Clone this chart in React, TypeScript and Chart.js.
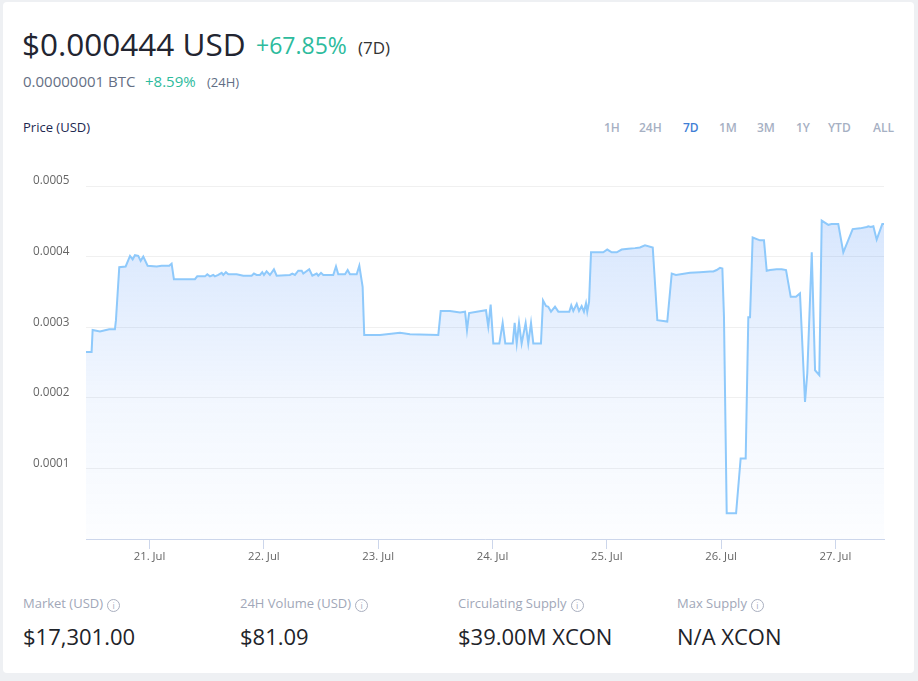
import React, { useEffect, useRef } from "react";
import { Chart, registerables } from "chart.js";

Chart.register(...registerables);

// time in days of July (fractional), price in USD
const times: number[] = [
  20.444, 20.493, 20.502, 20.566, 20.647, 20.697, 20.706, 20.735, 20.791, 20.829,
  20.852, 20.872, 20.901, 20.922, 20.945, 20.983, 21.062, 21.106, 21.172, 21.193,
  21.213, 21.397, 21.417, 21.485, 21.505, 21.528, 21.557, 21.572, 21.601, 21.631,
  21.645, 21.668, 21.689, 21.762, 21.82, 21.893, 21.913, 21.937, 21.966, 21.986,
  22.001, 22.024, 22.053, 22.088, 22.112, 22.228, 22.249, 22.272, 22.301, 22.331,
  22.345, 22.397, 22.424, 22.462, 22.476, 22.5, 22.52, 22.607, 22.631, 22.651,
  22.71, 22.733, 22.753, 22.812, 22.835, 22.864, 22.878, 23.016, 23.191, 23.278,
  23.526, 23.547, 23.628, 23.716, 23.76, 23.777, 23.795, 23.862, 23.943, 23.963,
  23.984, 24.007, 24.06, 24.089, 24.112, 24.177, 24.194, 24.212, 24.232, 24.255,
  24.29, 24.313, 24.337, 24.357, 24.424, 24.442, 24.468, 24.488, 24.512, 24.547,
  24.576, 24.672, 24.689, 24.707, 24.737, 24.757, 24.78, 24.8, 24.818, 24.829,
  24.845, 24.862, 24.969, 25.004, 25.043, 25.087, 25.13, 25.188, 25.247, 25.29,
  25.334, 25.402, 25.442, 25.529, 25.568, 25.605, 25.728, 25.815, 25.903, 25.932,
  25.961, 25.99, 26.011, 26.025, 26.049, 26.131, 26.171, 26.215, 26.238, 26.253,
  26.276, 26.34, 26.375, 26.399, 26.428, 26.486, 26.53, 26.568, 26.609, 26.655,
  26.69, 26.734, 26.754, 26.793, 26.822, 26.859, 26.88, 26.938, 26.967, 27.025,
  27.069, 27.151, 27.215, 27.274, 27.288, 27.309, 27.332, 27.361, 27.41, 27.425,
];

const prices: number[] = [
  0.000265, 0.000265, 0.000296, 0.000294, 0.000297, 0.000297, 0.00031, 0.000385, 0.000386, 0.000401,
  0.000396, 0.000402, 0.000401, 0.000394, 0.0004, 0.000387, 0.000386, 0.000387, 0.000387, 0.00039,
  0.000368, 0.000368, 0.000372, 0.000372, 0.000375, 0.000372, 0.000374, 0.000372, 0.000374, 0.000377,
  0.000374, 0.000378, 0.000375, 0.000375, 0.000373, 0.000373, 0.000376, 0.000374, 0.000374, 0.000378,
  0.000374, 0.000379, 0.000374, 0.000382, 0.000373, 0.000374, 0.000376, 0.000374, 0.00038, 0.00038,
  0.000376, 0.000382, 0.000373, 0.000376, 0.000373, 0.000377, 0.000374, 0.000374, 0.000386, 0.000375,
  0.000375, 0.000381, 0.000375, 0.000375, 0.000387, 0.000357, 0.000289, 0.000289, 0.000292, 0.00029,
  0.000289, 0.000323, 0.000323, 0.000321, 0.000322, 0.000296, 0.00032, 0.000322, 0.000324, 0.000301,
  0.000332, 0.000277, 0.000277, 0.000306, 0.000277, 0.000277, 0.000306, 0.000277, 0.000306, 0.000277,
  0.000306, 0.000277, 0.000306, 0.000277, 0.000277, 0.000338, 0.00033, 0.000329, 0.000322, 0.000329,
  0.000322, 0.000322, 0.000331, 0.000323, 0.000333, 0.000323, 0.00033, 0.000322, 0.000334, 0.000322,
  0.000336, 0.000406, 0.000406, 0.00041, 0.000406, 0.000406, 0.00041, 0.000411, 0.000412, 0.000413,
  0.000416, 0.000413, 0.00031, 0.000308, 0.000376, 0.000374, 0.000377, 0.000378, 0.000379, 0.000379,
  0.000381, 0.000384, 0.000383, 0.000315, 0.0000364, 0.0000364, 0.000114, 0.000114, 0.000314, 0.000314,
  0.000427, 0.000423, 0.000423, 0.00038, 0.000381, 0.000382, 0.000382, 0.000381, 0.000343, 0.000343,
  0.000348, 0.000194, 0.000235, 0.000406, 0.000239, 0.000232, 0.000451, 0.000445, 0.000446, 0.000446,
  0.000406, 0.000439, 0.00044, 0.000442, 0.000443, 0.000442, 0.000443, 0.000424, 0.000446, 0.000446,
];

const xTickDays: number[] = [21, 22, 23, 24, 25, 26, 27];
const monthLabel = "Jul";
const yMax = 0.0005;
const yStep = 0.0001;

const ranges: string[] = ["1H", "24H", "7D", "1M", "3M", "1Y", "YTD", "ALL"];
const rangeX: number[] = [604, 639, 683, 719, 757, 796, 828, 873];
const activeRange = "7D";

const statLabels: string[] = ["Market (USD)", "24H Volume (USD)", "Circulating Supply", "Max Supply"];
const statValues: string[] = ["$17,301.00", "$81.09", "$39.00M XCON", "N/A XCON"];
const statX: number[] = [23, 240, 458, 677];

const FONT = '"Open Sans", "Noto Sans", sans-serif';
const GREEN = "#2dbb9d";

function T(props: { x: number; base: number; fs: number; color: string; weight?: number; children: React.ReactNode }) {
  const { x, base, fs, color, weight, children } = props;
  return (
    <div
      style={{
        position: "absolute",
        left: x,
        top: base - 0.888 * fs,
        fontSize: fs,
        lineHeight: `${fs}px`,
        color,
        fontWeight: weight ?? 400,
        fontFamily: FONT,
        whiteSpace: "nowrap",
      }}
    >
      {children}
    </div>
  );
}

function InfoIcon() {
  return (
    <span
      style={{
        display: "inline-block",
        width: 11,
        height: 11,
        border: "1px solid #a9afbf",
        borderRadius: "50%",
        marginLeft: 4,
        fontSize: 9,
        lineHeight: "11px",
        textAlign: "center",
        verticalAlign: "-1px",
        color: "#a9afbf",
        fontFamily: FONT,
      }}
    >
      i
    </span>
  );
}

export default function App() {
  const canvasRef = useRef<HTMLCanvasElement | null>(null);

  useEffect(() => {
    if (!canvasRef.current) return;
    const data = times.map((t, i) => ({ x: t, y: prices[i] }));
    const chart = new Chart(canvasRef.current, {
      type: "line",
      data: {
        datasets: [
          {
            data,
            borderColor: "#8ec9fb",
            borderWidth: 2,
            pointRadius: 0,
            tension: 0,
            fill: "origin",
            backgroundColor: (ctx: any) => {
              const { chart } = ctx;
              const area = chart.chartArea;
              if (!area) return "rgba(80,150,250,0.1)";
              const g = chart.ctx.createLinearGradient(0, area.top, 0, area.bottom);
              g.addColorStop(0, "rgba(70,140,248,0.24)");
              g.addColorStop(0.6, "rgba(70,140,248,0.07)");
              g.addColorStop(1, "rgba(70,140,248,0.015)");
              return g;
            },
          },
        ],
      },
      options: {
        animation: false,
        responsive: true,
        maintainAspectRatio: false,
        layout: { padding: { top: 16, right: 16, left: 0, bottom: 0 } },
        plugins: { legend: { display: false }, tooltip: { enabled: false } },
        scales: {
          x: {
            type: "linear",
            min: times[0],
            max: times[times.length - 1],
            afterBuildTicks: (scale: any) => {
              scale.ticks = xTickDays.map((v) => ({ value: v }));
            },
            afterFit: (scale: any) => {
              scale.height = 31;
            },
            ticks: {
              callback: (v: any) => `${v}. ${monthLabel}`,
              color: "#666666",
              font: { family: FONT, size: 11.3 },
              padding: 1,
              maxRotation: 0,
              autoSkip: false,
            },
            grid: { drawOnChartArea: false, drawTicks: true, tickLength: 10, color: "#ccd6eb" },
            border: { color: "#ccd6eb", width: 1 },
          },
          y: {
            min: 0,
            max: yMax,
            afterFit: (scale: any) => {
              scale.width = 53;
            },
            ticks: {
              stepSize: yStep,
              callback: (v: any) => (Number(v) === 0 ? "" : Number(v).toFixed(4)),
              color: "#666666",
              font: { family: FONT, size: 11.7 },
              crossAlign: "far",
              labelOffset: -5,
            },
            grid: { color: "#f0f0f0", drawTicks: false },
            border: { display: false },
          },
        },
      },
    });
    return () => chart.destroy();
  }, []);

  return (
    <div style={{ position: "absolute", left: 0, top: 0, width: 918, height: 681, background: "#eef0f3", overflow: "hidden" }}>
      <div style={{ position: "absolute", left: 3, top: 2, width: 911, height: 671, background: "#ffffff", borderRadius: 4 }} />
      <T x={22} base={55.5} fs={31.5} color="#222531">$0.000444 USD</T>
      <T x={256} base={54} fs={23} color={GREEN}>+67.85%</T>
      <T x={358} base={54} fs={17} color="#333333">(7D)</T>
      <T x={23} base={87.5} fs={15} weight={500} color="#656f84">0.00000001 BTC</T>
      <T x={145} base={87.5} fs={15} weight={500} color={GREEN}>+8.59%</T>
      <T x={207} base={87.5} fs={13} color="#616e85">(24H)</T>
      <T x={23} base={133} fs={13} color="#1d2951">Price (USD)</T>
      {ranges.map((r, i) => (
        <T key={r} x={rangeX[i]} base={132.7} fs={12} weight={600} color={r === activeRange ? "#3f7fd6" : "#a6b0c3"}>
          {r}
        </T>
      ))}
      <div style={{ position: "absolute", left: 33, top: 170, width: 867, height: 400 }}>
        <canvas ref={canvasRef} />
      </div>
      {statLabels.map((l, i) => (
        <T key={l} x={statX[i]} base={609} fs={13} color="#a1a7b8">
          {l}
          <InfoIcon />
        </T>
      ))}
      {statValues.map((v, i) => (
        <T key={v} x={statX[i]} base={645} fs={22} weight={500} color="#1e2329">
          {v}
        </T>
      ))}
    </div>
  );
}
